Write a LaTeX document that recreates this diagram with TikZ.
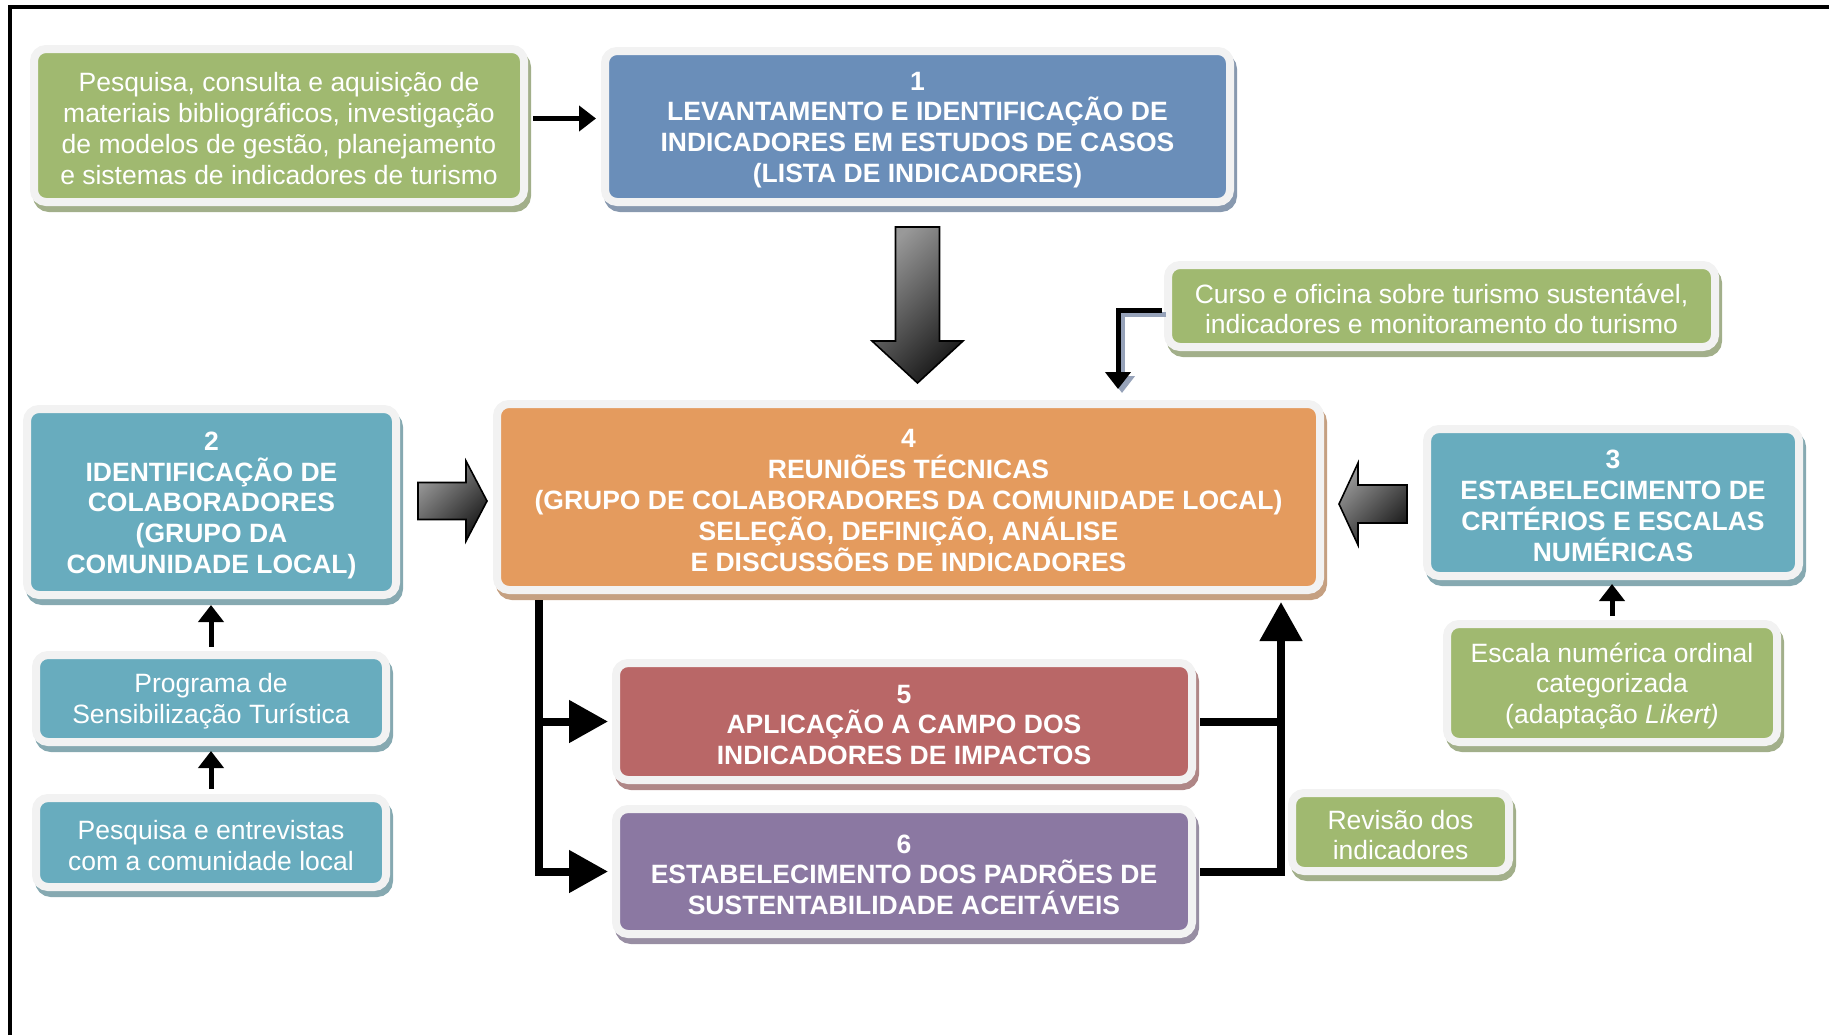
\documentclass[tikz,border=0pt]{standalone}
\usepackage{fontspec}
\setmainfont{Liberation Sans}
\usetikzlibrary{calc,shadows,arrows.meta}

\definecolor{cgreen}{RGB}{160,185,112}
\definecolor{cblue}{RGB}{106,142,185}
\definecolor{cteal}{RGB}{104,172,190}
\definecolor{corange}{RGB}{228,155,94}
\definecolor{cred}{RGB}{185,103,103}
\definecolor{cpurple}{RGB}{139,120,162}
\definecolor{framegray}{RGB}{242,242,242}
\definecolor{shgray}{RGB}{165,165,165}
\definecolor{linkshadow}{RGB}{150,162,185}

\newcommand\boxfont{\fontsize{13.25pt}{15.4pt}\selectfont}
% taller first line, so the text block sits a little lower in its box
\newcommand\topstrut{\rule{0pt}{12.6pt}}

\tikzset{
  box/.style={rounded corners=6pt, fill=#1, draw=framegray, line width=4pt,
    inner sep=0pt, align=center, text=white, font=\boxfont,
    general shadow={fill=#1!50!shgray, draw=#1!50!shgray, line width=4pt,
      shadow xshift=1.5pt, shadow yshift=-3pt}},
  hbox/.style={box=#1, font=\boxfont\bfseries},
  link/.style={line width=2.5pt, line join=miter, -{Triangle[length=8.5pt,width=12.5pt]}},
  flow/.style={line width=4pt, line join=miter, -{Triangle[length=19.5pt,width=20.5pt]}},
  flowline/.style={line width=4pt},
  fatarrow/.style={draw=black, line width=0.8pt, line join=miter,
    top color=black!40, bottom color=black!90, shading angle=45},
}

\begin{document}
\begin{tikzpicture}[x=0.5pt, y=-0.5pt]
\useasboundingbox (0,0) rectangle (1829,1035);

% page frame (top and left rules)
\draw[line width=2pt] (10,1035) -- (10,6.5) -- (1829,6.5);

% ---- boxes ----
\node[box=cgreen, minimum width=245pt, minimum height=76.5pt] (src) at (279,125.5)
  {\topstrut Pesquisa, consulta e aquisição de\\materiais bibliográficos, investigação\\de modelos de gestão, planejamento\\e sistemas de indicadores de turismo};

\node[hbox=cblue, minimum width=312.5pt, minimum height=75.5pt] (b1) at (917.5,126.5)
  {\topstrut 1\\LEVANTAMENTO E IDENTIFICAÇÃO DE\\INDICADORES EM ESTUDOS DE CASOS\\(LISTA DE INDICADORES)};

\node[box=cgreen, minimum width=273.5pt, minimum height=41pt] (cur) at (1441.5,306)
  {\topstrut Curso e oficina sobre turismo sustentável,\\indicadores e monitoramento do turismo};

\node[hbox=cteal, minimum width=184.5pt, minimum height=93pt] (b2) at (211.5,502)
  {\topstrut 2\\IDENTIFICAÇÃO DE\\COLABORADORES\\(GRUPO DA\\COMUNIDADE LOCAL)};

\node[box=cteal, minimum width=175pt, minimum height=43.5pt] (prog) at (211,698.5)
  {\topstrut Programa de\\Sensibilização Turística};

\node[box=cteal, minimum width=175pt, minimum height=44.5pt] (pesq) at (211,842.5)
  {\topstrut Pesquisa e entrevistas\\com a comunidade local};

\node[hbox=corange, minimum width=411.5pt, minimum height=93pt] (b4) at (908.5,497)
  {\topstrut 4\\REUNIÕES TÉCNICAS\\(GRUPO DE COLABORADORES DA COMUNIDADE LOCAL)\\SELEÇÃO, DEFINIÇÃO, ANÁLISE\\E DISCUSSÕES DE INDICADORES};

\node[hbox=cteal, minimum width=186pt, minimum height=73.5pt] (b3) at (1613,502.5)
  {\topstrut 3\\ESTABELECIMENTO DE\\CRITÉRIOS E ESCALAS\\NUMÉRICAS};

\node[box=cgreen, minimum width=165pt, minimum height=59pt] (esc) at (1612,683)
  {\topstrut Escala numérica ordinal\\categorizada\\(adaptação \textit{Likert)}};

\node[hbox=cred, minimum width=288pt, minimum height=58.5pt] (b5) at (904,721.5)
  {\topstrut 5\\APLICAÇÃO A CAMPO DOS\\INDICADORES DE IMPACTOS};

\node[hbox=cpurple, minimum width=288pt, minimum height=62.5pt] (b6) at (904,871.5)
  {\topstrut 6\\ESTABELECIMENTO DOS PADRÕES DE\\SUSTENTABILIDADE ACEITÁVEIS};

\node[box=cgreen, minimum width=108.5pt, minimum height=39pt] (rev) at (1400.5,832)
  {\topstrut Revisão dos\\indicadores};

% ---- thin connectors ----
\draw[link, shorten <=2.5pt, shorten >=2.5pt]
  ($(src.east)+(0,-7)$) -- ($(src.east -| b1.west)+(0,-7)$);

\draw[link, shorten <=2pt, shorten >=3pt] (prog.north) -- (prog.north |- b2.south);
\draw[link, shorten <=2.5pt, shorten >=2.5pt] (pesq.north) -- (pesq.north |- prog.south);
\draw[link, shorten <=2pt, shorten >=2pt] (esc.north) -- (esc.north |- b3.south);

% course -> meetings, with a soft shadow under the line
\coordinate (ct) at ($(b4.north)+(209.5,-11)$);
\draw[link, linkshadow, transform canvas={shift={(2pt,-2pt)}}]
  ($(cur.west)+(-2,4)$) -| (ct);
\draw[link] ($(cur.west)+(-2,4)$) -| (ct);

% ---- block arrows into the meetings box ----
\coordinate (dt) at ($(b1.south)+(0,21)$);
\coordinate (dh) at ($(b1.south |- b4.north)+(0,-17)$);
\draw[fatarrow] ($(dt)+(-22,0)$) -- ($(dt)+(22,0)$) -- ($(dh)+(22,-42)$)
  -- ($(dh)+(45.5,-42)$) -- (dh) -- ($(dh)+(-45.5,-42)$) -- ($(dh)+(-22,-42)$) -- cycle;

\coordinate (rt) at ($(b2.east)+(18,-1)$);
\coordinate (rh) at ($(b4.west |- rt)+(-6,0)$);
\draw[fatarrow] ($(rt)+(0,-18.5)$) -- ($(rh)+(-21,-18.5)$) -- ($(rh)+(-21,-40)$)
  -- (rh) -- ($(rh)+(-21,40)$) -- ($(rh)+(-21,18.5)$) -- ($(rt)+(0,18.5)$) -- cycle;

\coordinate (lt) at ($(b3.west)+(-16,1.5)$);
\coordinate (lh) at ($(b4.east |- lt)+(15,0)$);
\draw[fatarrow] ($(lt)+(0,-19)$) -- ($(lh)+(19,-19)$) -- ($(lh)+(19,-41)$)
  -- (lh) -- ($(lh)+(19,41)$) -- ($(lh)+(19,19)$) -- ($(lt)+(0,19)$) -- cycle;

% ---- feed from meetings to steps 5 and 6 ----
\coordinate (ls) at ($(b4.south west)+(46,6)$);
\draw[flow, shorten >=2pt] (ls) |- (b6.west);
\draw[flow, shorten >=2pt] (ls |- b5.west) -- (b5.west);

% ---- return from steps 5 and 6 ----
\coordinate (rs) at ($(b4.south east)+(-43,8)$);
\draw[flow, shorten <=2pt] (b6.east) -| (rs);
\draw[flowline, shorten <=2pt] (b5.east) -- (b5.east -| rs);

\end{tikzpicture}
\end{document}
